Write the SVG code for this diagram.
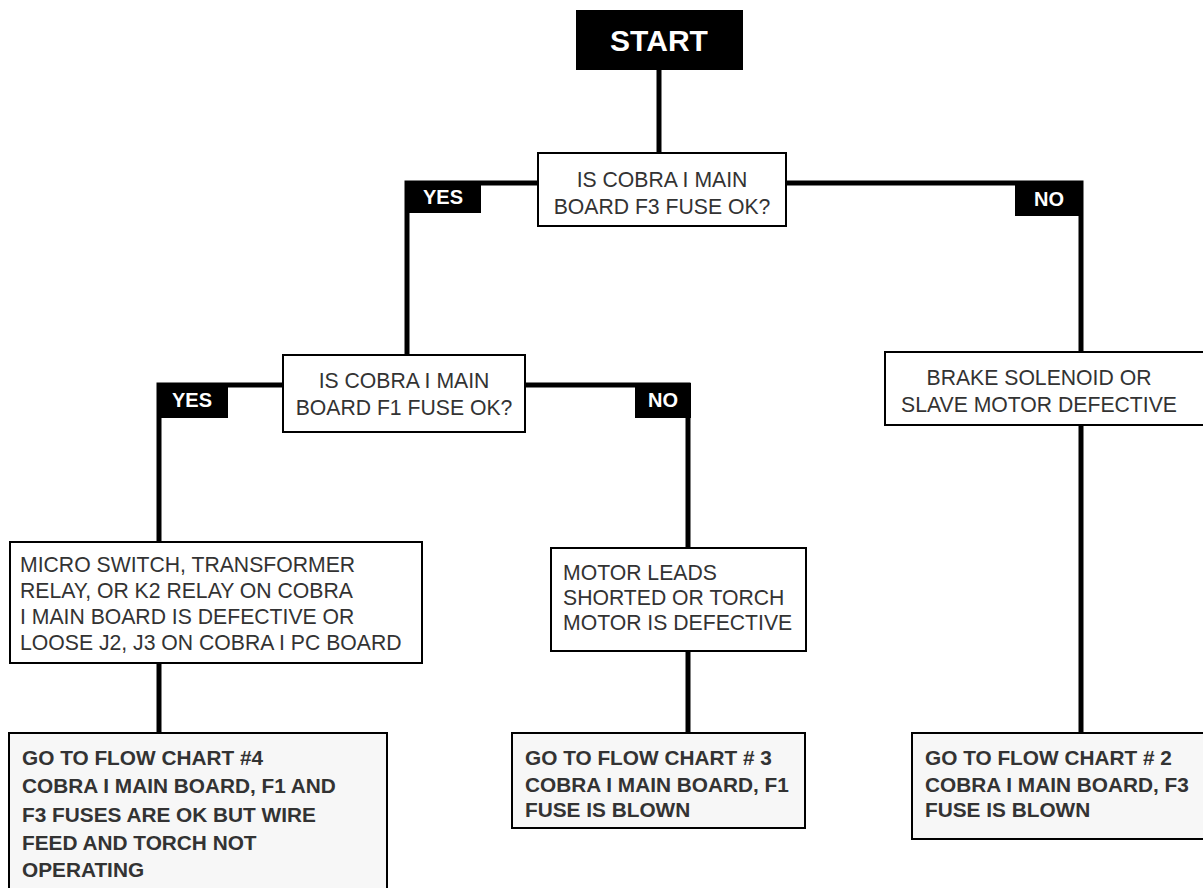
<svg xmlns="http://www.w3.org/2000/svg" width="1203" height="888" viewBox="0 0 1203 888">
<style>
.box{fill:#fff;stroke:#000;stroke-width:2}
.end{fill:#f7f7f7;stroke:#000;stroke-width:2}
.t{font-family:"Liberation Sans",Arial,sans-serif;font-size:21.2px;fill:#333}
.b{font-family:"Liberation Sans",Arial,sans-serif;font-size:20.8px;font-weight:bold;fill:#333}
.lbl{fill:#000}
.lt{font-family:"Liberation Sans",Arial,sans-serif;font-size:20px;font-weight:bold;fill:#fff;text-anchor:middle}
.c{fill:none;stroke:#000;stroke-width:5}
</style>
<rect width="1203" height="888" fill="#fff"/>
<g id="connectors">
<path class="c" d="M659 70V153"/>
<path class="c" d="M538 183H407V355"/>
<path class="c" d="M786 183H1081V352"/>
<path class="c" d="M283 385H159V542"/>
<path class="c" d="M525 385H688V548"/>
<path class="c" d="M159 663V733"/>
<path class="c" d="M688 651V733"/>
<path class="c" d="M1081 425V733"/>
<rect class="lbl" x="405" y="181" width="76" height="32"/>
<text class="lt" x="443" y="204">YES</text>
<rect class="lbl" x="1015" y="183" width="68" height="33"/>
<text class="lt" x="1049" y="206">NO</text>
<rect class="lbl" x="157" y="383" width="71" height="35"/>
<text class="lt" x="192" y="407">YES</text>
<rect class="lbl" x="635" y="383" width="56" height="35"/>
<text class="lt" x="663" y="407">NO</text>
</g>
<g id="start">
<rect x="576" y="10" width="167" height="60" fill="#000"/>
<text x="659" y="51" font-family="Liberation Sans,Arial,sans-serif" font-size="30" font-weight="bold" fill="#fff" text-anchor="middle">START</text>
</g>
<g id="q1">
<rect class="box" x="538" y="153" width="248" height="73"/>
<text class="t" x="662" y="187" text-anchor="middle">IS COBRA I MAIN</text>
<text class="t" x="662" y="214" text-anchor="middle">BOARD F3 FUSE OK?</text>
</g>
<g id="q2">
<rect class="box" x="283" y="355" width="242" height="77"/>
<text class="t" x="404" y="388" text-anchor="middle">IS COBRA I MAIN</text>
<text class="t" x="404" y="415" text-anchor="middle">BOARD F1 FUSE OK?</text>
</g>
<g id="brake">
<rect class="box" x="885" y="352" width="320" height="73"/>
<text class="t" x="1039" y="385" text-anchor="middle">BRAKE SOLENOID OR</text>
<text class="t" x="1039" y="412" text-anchor="middle">SLAVE MOTOR DEFECTIVE</text>
</g>
<g id="micro">
<rect class="box" x="10" y="542" width="412" height="121"/>
<text class="t" x="20" y="572">MICRO SWITCH, TRANSFORMER</text>
<text class="t" x="20" y="598">RELAY, OR K2 RELAY ON COBRA</text>
<text class="t" x="20" y="624">I MAIN BOARD IS DEFECTIVE OR</text>
<text class="t" x="20" y="650">LOOSE J2, J3 ON COBRA I PC BOARD</text>
</g>
<g id="motor">
<rect class="box" x="551" y="548" width="255" height="103"/>
<text class="t" x="563" y="580">MOTOR LEADS</text>
<text class="t" x="563" y="605">SHORTED OR TORCH</text>
<text class="t" x="563" y="630">MOTOR IS DEFECTIVE</text>
</g>
<g id="fc4">
<rect class="end" x="9" y="733" width="378" height="170"/>
<text class="b" x="22" y="765">GO TO FLOW CHART #4</text>
<text class="b" x="22" y="793">COBRA I MAIN BOARD, F1 AND</text>
<text class="b" x="22" y="822">F3 FUSES ARE OK BUT WIRE</text>
<text class="b" x="22" y="850">FEED AND TORCH NOT</text>
<text class="b" x="22" y="877">OPERATING</text>
</g>
<g id="fc3">
<rect class="end" x="512" y="733" width="293" height="95"/>
<text class="b" x="525" y="765">GO TO FLOW CHART # 3</text>
<text class="b" x="525" y="792">COBRA I MAIN BOARD, F1</text>
<text class="b" x="525" y="817">FUSE IS BLOWN</text>
</g>
<g id="fc2">
<rect class="end" x="912" y="733" width="295" height="106"/>
<text class="b" x="925" y="765">GO TO FLOW CHART # 2</text>
<text class="b" x="925" y="792">COBRA I MAIN BOARD, F3</text>
<text class="b" x="925" y="817">FUSE IS BLOWN</text>
</g>
</svg>
